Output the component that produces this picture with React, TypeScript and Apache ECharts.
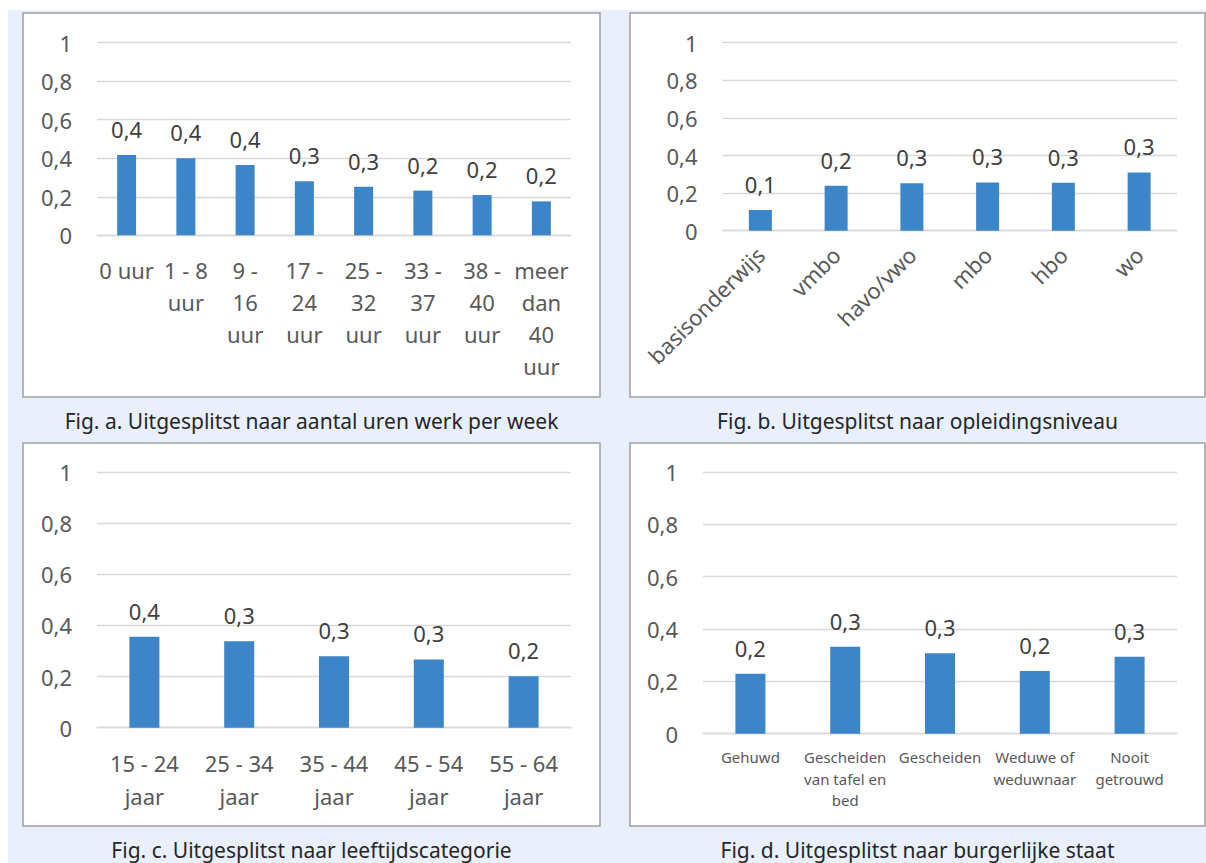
import React, { useEffect, useRef } from "react";
import * as echarts from "echarts";

const hoursCats = ["0 uur", "1 - 8\nuur", "9 -\n16\nuur", "17 -\n24\nuur", "25 -\n32\nuur", "33 -\n37\nuur", "38 -\n40\nuur", "meer\ndan\n40\nuur"];
const hoursVals = [0.417, 0.4, 0.365, 0.28, 0.252, 0.232, 0.209, 0.176];

const eduCats = ["basisonderwijs", "vmbo", "havo/vwo", "mbo", "hbo", "wo"];
const eduVals = [0.11, 0.239, 0.252, 0.257, 0.255, 0.31];

const ageCats = ["15 - 24\njaar", "25 - 34\njaar", "35 - 44\njaar", "45 - 54\njaar", "55 - 64\njaar"];
const ageVals = [0.356, 0.338, 0.279, 0.267, 0.201];

const civilCats = ["Gehuwd", "Gescheiden\nvan tafel en\nbed", "Gescheiden", "Weduwe of\nweduwnaar", "Nooit\ngetrouwd"];
const civilVals = [0.229, 0.332, 0.307, 0.24, 0.294];

const captions = [
  "Fig. a. Uitgesplitst naar aantal uren werk per week",
  "Fig. b. Uitgesplitst naar opleidingsniveau",
  "Fig. c. Uitgesplitst naar leeftijdscategorie",
  "Fig. d. Uitgesplitst naar burgerlijke staat",
];

const FONT = "'Noto Sans', 'Open Sans', sans-serif";
const BAR = "#3D85C9";
const GRID = "#D9D9D9";
const LABEL = "#595959";

const fmt = (v: number) => String(Math.round(v * 10) / 10).replace(".", ",");

export default function App() {
  const ref = useRef<HTMLDivElement>(null);
  useEffect(() => {
    if (!ref.current) return;
    const chart = echarts.init(ref.current, null, { renderer: "svg" });

    const grids = [
      { left: 97, top: 42.7, width: 474, height: 192.6 },
      { left: 722.5, top: 42.7, width: 454.5, height: 188 },
      { left: 97, top: 472, width: 474, height: 255.7 },
      { left: 703, top: 472, width: 474, height: 261.7 },
    ];
    const cats = [hoursCats, eduCats, ageCats, civilCats];
    const vals = [hoursVals, eduVals, ageVals, civilVals];
    const barWidths = [19, 23, 30, 30];

    const xLabel = [
      { fontSize: 22, lineHeight: 32, margin: 19, rotate: 0 },
      { fontSize: 22, lineHeight: 26, margin: 20, rotate: 45 },
      { fontSize: 22, lineHeight: 33, margin: 19, rotate: 0 },
      { fontSize: 15, lineHeight: 21.3, margin: 13, rotate: 0 },
    ];

    const panels = [
      { x: 23, y: 13, w: 577, h: 384 },
      { x: 630, y: 13, w: 575, h: 384 },
      { x: 23, y: 443, w: 577, h: 383 },
      { x: 630, y: 443, w: 575, h: 383 },
    ];
    const capPos = [
      { x: 311.5, y: 421 },
      { x: 917.5, y: 421 },
      { x: 311.5, y: 849.5 },
      { x: 917.5, y: 849.5 },
    ];

    const graphic: any[] = [
      { type: "rect", z: -10, shape: { x: 0, y: 0, width: 1206, height: 863 }, style: { fill: "#ffffff" } },
      { type: "rect", z: -9, shape: { x: 8, y: 10, width: 1198, height: 853 }, style: { fill: "#E9F0FC" } },
      ...panels.map((p) => ({
        type: "rect",
        z: -8,
        shape: { x: p.x, y: p.y, width: p.w, height: p.h },
        style: { fill: "#ffffff", stroke: "#9E9E9E", lineWidth: 1.5 },
      })),
      ...captions.map((c, i) => ({
        type: "text",
        z: -7,
        x: capPos[i].x,
        y: capPos[i].y,
        style: {
          text: c,
          fontSize: 21,
          fontFamily: FONT,
          fill: "#262626",
          align: "center",
          verticalAlign: "middle",
        },
      })),
    ];

    const option: any = {
      animation: false,
      graphic,
      grid: grids.map((g) => ({ ...g, containLabel: false })),
      xAxis: cats.map((c, i) => ({
        type: "category",
        gridIndex: i,
        data: c,
        axisTick: { show: false },
        axisLine: { show: true, lineStyle: { color: GRID, width: 1.3 } },
        axisLabel: {
          interval: 0,
          color: LABEL,
          fontFamily: FONT,
          fontSize: xLabel[i].fontSize,
          lineHeight: xLabel[i].lineHeight,
          margin: xLabel[i].margin,
          rotate: xLabel[i].rotate,
        },
      })),
      yAxis: cats.map((_, i) => ({
        type: "value",
        gridIndex: i,
        min: 0,
        max: 1,
        interval: 0.2,
        axisLine: { show: false },
        axisTick: { show: false },
        splitLine: { lineStyle: { color: GRID, width: 1.3 } },
        axisLabel: {
          color: LABEL,
          fontFamily: FONT,
          fontSize: 22,
          margin: 25,
          formatter: (v: number) => fmt(v),
        },
      })),
      series: vals.map((v, i) => ({
        type: "bar",
        xAxisIndex: i,
        yAxisIndex: i,
        data: v,
        barWidth: barWidths[i],
        itemStyle: { color: BAR },
        label: {
          show: true,
          position: "top",
          distance: 15,
          color: "#404040",
          fontFamily: FONT,
          fontSize: 22,
          formatter: (p: any) => fmt(p.value),
        },
      })),
    };
    chart.setOption(option);
    return () => chart.dispose();
  }, []);
  return <div ref={ref} style={{ position: "absolute", left: 0, top: 0, width: 1206, height: 863 }} />;
}
